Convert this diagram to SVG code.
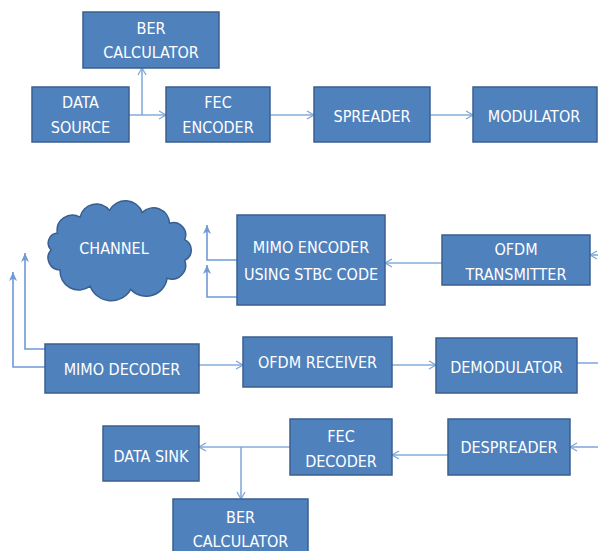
<svg xmlns="http://www.w3.org/2000/svg" width="598" height="551" viewBox="0 0 598 551">
<defs>
<marker id="open" markerWidth="10" markerHeight="10" refX="8" refY="5" orient="auto" markerUnits="userSpaceOnUse">
<path d="M1,1 L8,5 L1,9" fill="none" stroke="#7EA6D8" stroke-width="1.3"/>
</marker>
<marker id="solid" markerWidth="10" markerHeight="10" refX="9" refY="5" orient="auto" markerUnits="userSpaceOnUse">
<path d="M0,1 L9,5 L0,9 L2.5,5 Z" fill="#6F9AD3"/>
</marker>
<style>
.box{fill:#4F81BD;stroke:#3A5F8F;stroke-width:1.5}
.t{fill:#FFFFFF;font-family:"Liberation Sans Narrow","DejaVu Sans Condensed","Liberation Sans",sans-serif;font-size:16px;text-anchor:middle}
.c{fill:none;stroke:#85ABDC;stroke-width:1.6}
.cu{fill:none;stroke:#6F9AD3;stroke-width:1.6}
</style>
</defs>
<rect width="598" height="551" fill="#FFFFFF"/>
<g id="connectors">
<path class="c" d="M129,115 H166" marker-end="url(#open)"/>
<path class="c" d="M142,115 V68" marker-end="url(#open)"/>
<path class="c" d="M270,115 H314" marker-end="url(#open)"/>
<path class="c" d="M430,115 H473" marker-end="url(#open)"/>
<path class="c" d="M598,255 H590" marker-end="url(#open)"/>
<path class="c" d="M442,263 H385" marker-end="url(#open)"/>
<path class="cu" d="M237,260 H207 V225" marker-end="url(#solid)"/>
<path class="cu" d="M237,297 H207 V265" marker-end="url(#solid)"/>
<path class="cu" d="M45,349 H25 V253" marker-end="url(#solid)"/>
<path class="cu" d="M45,367 H13 V272" marker-end="url(#solid)"/>
<path class="c" d="M199,365 H243" marker-end="url(#open)"/>
<path class="c" d="M392,365 H436" marker-end="url(#open)"/>
<path class="c" d="M577,363 H598"/>
<path class="c" d="M598,447 H570" marker-end="url(#open)"/>
<path class="c" d="M448,455 H392" marker-end="url(#open)"/>
<path class="c" d="M290,447 H199" marker-end="url(#open)"/>
<path class="c" d="M241,447 V499" marker-end="url(#open)"/>
</g>
<g id="ber-top"><rect class="box" x="83" y="12" width="136" height="56"/><text class="t" x="151" y="33.5">BER</text><text class="t" x="151" y="58">CALCULATOR</text></g>
<g id="data-source"><rect class="box" x="32" y="87" width="97" height="55"/><text class="t" x="80.5" y="108">DATA</text><text class="t" x="80.5" y="133">SOURCE</text></g>
<g id="fec-encoder"><rect class="box" x="166" y="87" width="104" height="55"/><text class="t" x="218" y="108">FEC</text><text class="t" x="218" y="133">ENCODER</text></g>
<g id="spreader"><rect class="box" x="314" y="87" width="116" height="55"/><text class="t" x="372" y="122">SPREADER</text></g>
<g id="modulator"><rect class="box" x="473" y="87" width="124" height="55"/><text class="t" x="534" y="122">MODULATOR</text></g>
<g id="channel"><path class="box" d="M51,250 A10,10 0 0 1 57.4,233.1 A15.2,15.2 0 0 1 80,217.2 A16.7,16.7 0 0 1 109.5,210.4 A18,18 0 0 1 142.3,212.4 A16,16 0 0 1 169.5,223.2 A12.3,12.3 0 0 1 184.7,239.6 A11.5,11.5 0 0 1 184.7,260.4 A13.8,13.8 0 0 1 167.1,278.3 A21,21 0 0 1 130.8,289.4 A22.5,22.5 0 0 1 90.2,286.2 A18.8,18.8 0 0 1 60.1,270 A12.1,12.1 0 0 1 51,250 Z"/><text class="t" x="114" y="254">CHANNEL</text></g>
<g id="mimo-encoder"><rect class="box" x="237" y="215" width="148" height="90"/><text class="t" x="311" y="253">MIMO ENCODER</text><text class="t" x="311" y="280">USING STBC CODE</text></g>
<g id="ofdm-transmitter"><rect class="box" x="442" y="235" width="148" height="50"/><text class="t" x="516" y="255">OFDM</text><text class="t" x="516" y="280">TRANSMITTER</text></g>
<g id="mimo-decoder"><rect class="box" x="45" y="344" width="154" height="49"/><text class="t" x="122" y="375">MIMO DECODER</text></g>
<g id="ofdm-receiver"><rect class="box" x="243" y="337" width="149" height="50"/><text class="t" x="317.5" y="368">OFDM RECEIVER</text></g>
<g id="demodulator"><rect class="box" x="436" y="338" width="141" height="55"/><text class="t" x="506.5" y="373">DEMODULATOR</text></g>
<g id="fec-decoder"><rect class="box" x="290" y="419" width="102" height="56"/><text class="t" x="341" y="442">FEC</text><text class="t" x="341" y="467">DECODER</text></g>
<g id="despreader"><rect class="box" x="448" y="419" width="122" height="56"/><text class="t" x="509" y="453">DESPREADER</text></g>
<g id="data-sink"><rect class="box" x="103" y="426" width="96" height="55"/><text class="t" x="151" y="462">DATA SINK</text></g>
<g id="ber-bottom"><rect class="box" x="173" y="499" width="135" height="62"/><text class="t" x="240.5" y="523">BER</text><text class="t" x="240.5" y="547">CALCULATOR</text></g>
</svg>
